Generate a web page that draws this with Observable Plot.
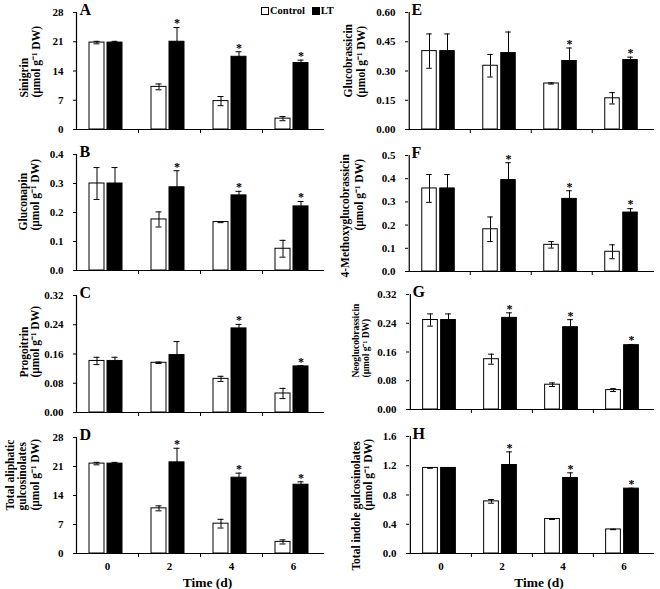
<!DOCTYPE html>
<html><head><meta charset="utf-8">
<script src="https://cdn.jsdelivr.net/npm/d3@7"></script>
<script src="https://cdn.jsdelivr.net/npm/@observablehq/plot@0.6"></script>
<style>
body{margin:0;background:#fff;}
#wrap{position:relative;width:660px;height:589px;overflow:hidden;background:#fff;font-family:"Liberation Serif","Times New Roman",serif;font-weight:bold;}
#wrap svg{position:absolute;background:transparent !important;overflow:visible;}
.legend{position:absolute;left:261px;top:5px;font-size:10.5px;line-height:12px;display:flex;align-items:center;white-space:nowrap;color:#000;}
.sw{display:inline-block;width:6px;height:6px;border:1px solid #000;margin-right:1px;}
</style></head><body><div id="wrap"></div>
<script>
const times = ["0","2","4","6"];
const series = ["Control","LT"];
const xTitle = "Time (d)";
const unitLine = "(μmol g⁻¹ DW)";

// A Sinigrin
const sinigrinControl = [20.8, 10.2, 6.8, 2.6];
const sinigrinControlErr = [0.3, 0.7, 1.1, 0.5];
const sinigrinLT = [20.8, 21.0, 17.4, 15.9];
const sinigrinLTErr = [0.3, 3.4, 1.2, 0.7];
const sinigrinSig = [false, true, true, true];
const sinigrinTicks = ["0","7","14","21","28"];
// B Gluconapin
const gluconapinControl = [0.300, 0.176, 0.167, 0.075];
const gluconapinControlErr = [0.055, 0.026, 0.002, 0.029];
const gluconapinLT = [0.300, 0.287, 0.259, 0.221];
const gluconapinLTErr = [0.055, 0.057, 0.014, 0.017];
const gluconapinSig = [false, true, true, true];
const gluconapinTicks = ["0.0","0.1","0.2","0.3","0.4"];
// C Progoitrin
const progoitrinControl = [0.141, 0.136, 0.092, 0.052];
const progoitrinControlErr = [0.010, 0.002, 0.007, 0.014];
const progoitrinLT = [0.141, 0.157, 0.230, 0.126];
const progoitrinLTErr = [0.010, 0.037, 0.011, 0.002];
const progoitrinSig = [false, false, true, true];
const progoitrinTicks = ["0.00","0.08","0.16","0.24","0.32"];
// D Total aliphatic
const aliphaticControl = [21.7, 10.9, 7.2, 2.8];
const aliphaticControlErr = [0.3, 0.6, 1.05, 0.5];
const aliphaticLT = [21.7, 22.0, 18.3, 16.6];
const aliphaticLTErr = [0.3, 3.4, 1.1, 0.7];
const aliphaticSig = [false, true, true, true];
const aliphaticTicks = ["0","7","14","21","28"];
// E Glucobrassicin
const glucobrassicinControl = [0.402, 0.327, 0.236, 0.160];
const glucobrassicinControlErr = [0.088, 0.058, 0.003, 0.029];
const glucobrassicinLT = [0.402, 0.392, 0.351, 0.356];
const glucobrassicinLTErr = [0.088, 0.108, 0.067, 0.015];
const glucobrassicinSig = [false, false, true, true];
const glucobrassicinTicks = ["0.00","0.15","0.30","0.45","0.60"];
// F 4-Methoxyglucobrassicin
const methoxyControl = [0.358, 0.182, 0.115, 0.085];
const methoxyControlErr = [0.060, 0.053, 0.014, 0.030];
const methoxyLT = [0.358, 0.394, 0.313, 0.254];
const methoxyLTErr = [0.060, 0.075, 0.035, 0.017];
const methoxySig = [false, true, true, true];
const methoxyTicks = ["0.0","0.1","0.2","0.3","0.4","0.5"];
// G Neoglucobrassicin
const neoControl = [0.249, 0.140, 0.069, 0.054];
const neoControlErr = [0.017, 0.014, 0.005, 0.004];
const neoLT = [0.249, 0.255, 0.229, 0.179];
const neoLTErr = [0.017, 0.014, 0.021, 0.002];
const neoSig = [false, true, true, true];
const neoTicks = ["0.00","0.08","0.16","0.24","0.32"];
// H Total indole
const indoleControl = [1.170, 0.713, 0.471, 0.329];
const indoleControlErr = [0.005, 0.025, 0.005, 0.003];
const indoleLT = [1.170, 1.210, 1.033, 0.887];
const indoleLTErr = [0.005, 0.180, 0.070, 0.005];
const indoleSig = [false, true, true, true];
const indoleTicks = ["0.0","0.4","0.8","1.2","1.6"];

// layout (page positions / margins), kept apart from data
const panels = [
  {letter:"A", ctrl:sinigrinControl, ctrlErr:sinigrinControlErr, lt:sinigrinLT, ltErr:sinigrinLTErr, sig:sinigrinSig, ticks:sinigrinTicks,
   left:0, top:0, height:140, ml:76, mt:12, mb:11,
   title:[{t:"Sinigrin", x:24, y:97}, {t:unitLine, x:36, y:97}]},
  {letter:"B", ctrl:gluconapinControl, ctrlErr:gluconapinControlErr, lt:gluconapinLT, ltErr:gluconapinLTErr, sig:gluconapinSig, ticks:gluconapinTicks,
   left:0, top:140, height:140, ml:76, mt:14, mb:10,
   title:[{t:"Gluconapin", x:23, y:90}, {t:unitLine, x:35, y:90}]},
  {letter:"C", ctrl:progoitrinControl, ctrlErr:progoitrinControlErr, lt:progoitrinLT, ltErr:progoitrinLTErr, sig:progoitrinSig, ticks:progoitrinTicks,
   left:0, top:280, height:140, ml:76, mt:15, mb:8,
   title:[{t:"Progoitrin", x:24, y:97}, {t:unitLine, x:35, y:97}]},
  {letter:"D", ctrl:aliphaticControl, ctrlErr:aliphaticControlErr, lt:aliphaticLT, ltErr:aliphaticLTErr, sig:aliphaticSig, ticks:aliphaticTicks,
   left:0, top:420, height:169, ml:76, mt:17, mb:36, xAxis:true,
   title:[{t:"Total aliphatic", x:10, y:90}, {t:"gulcosinolates", x:22, y:90}, {t:unitLine, x:35, y:90}]},
  {letter:"E", ctrl:glucobrassicinControl, ctrlErr:glucobrassicinControlErr, lt:glucobrassicinLT, ltErr:glucobrassicinLTErr, sig:glucobrassicinSig, ticks:glucobrassicinTicks,
   left:330, top:0, height:140, ml:78, mt:12, mb:11,
   title:[{t:"Glucobrassicin", x:18, y:97}, {t:unitLine, x:31, y:97}]},
  {letter:"F", ctrl:methoxyControl, ctrlErr:methoxyControlErr, lt:methoxyLT, ltErr:methoxyLTErr, sig:methoxySig, ticks:methoxyTicks,
   left:330, top:140, height:140, ml:78, mt:15, mb:9,
   title:[{t:"4-Methoxyglucobrassicin", x:15, y:137}, {t:unitLine, x:29, y:90}]},
  {letter:"G", ctrl:neoControl, ctrlErr:neoControlErr, lt:neoLT, ltErr:neoLTErr, sig:neoSig, ticks:neoTicks,
   left:330, top:280, height:140, ml:79, mt:14, mb:11, titleSize:9.5,
   title:[{t:"Neoglucobrassicin", x:25, y:97}, {t:unitLine, x:35, y:97}]},
  {letter:"H", ctrl:indoleControl, ctrlErr:indoleControlErr, lt:indoleLT, ltErr:indoleLTErr, sig:indoleSig, ticks:indoleTicks,
   left:330, top:420, height:169, ml:79, mt:16, mb:36, xAxis:true,
   title:[{t:"Total indole gulcosinolates", x:26, y:150}, {t:unitLine, x:38, y:90}]}
];

const W = 330, MR = 6, barW = 15, gap = 3, shift = -1.5, capW = 6;
const wrap = document.getElementById("wrap");

for (const p of panels) {
  const step = (W - p.ml - MR) / times.length;
  const innerH = p.height - p.mt - p.mb;
  const cC = step / 2 + shift - (barW + gap) / 2;
  const cL = step / 2 + shift + (barW + gap) / 2;
  const rows = times.map((t, i) => ({time: t, c: p.ctrl[i], ce: p.ctrlErr[i], l: p.lt[i], le: p.ltErr[i], sig: p.sig[i]}));
  const tickVals = p.ticks.map(Number);
  const yMax = tickVals[tickVals.length - 1];
  const errMarks = (val, err, cx) => [
    Plot.ruleX(rows, {x: "time", y1: d => d[val] - d[err], y2: d => d[val] + d[err], dx: cx - step / 2, stroke: "black", strokeWidth: 1}),
    Plot.tickY(rows, {x: "time", y: d => d[val] + d[err], insetLeft: cx - capW / 2, insetRight: step - cx - capW / 2, stroke: "black", strokeWidth: 1}),
    Plot.tickY(rows, {x: "time", y: d => d[val] - d[err], insetLeft: cx - capW / 2, insetRight: step - cx - capW / 2, stroke: "black", strokeWidth: 1})
  ];
  const marks = [
    Plot.barY(rows, {x: "time", y: "c", fill: "white", stroke: "black", strokeWidth: 1, insetLeft: cC - barW / 2, insetRight: step - cC - barW / 2}),
    Plot.barY(rows, {x: "time", y: "l", fill: "black", stroke: "black", strokeWidth: 1, insetLeft: cL - barW / 2, insetRight: step - cL - barW / 2}),
    ...errMarks("c", "ce", cC),
    ...errMarks("l", "le", cL),
    Plot.text(rows.filter(d => d.sig), {x: "time", y: d => d.l + d.le, text: () => "*", dx: cL - step / 2, dy: -4, fontSize: 12}),
    Plot.ruleY([0], {stroke: "black", strokeWidth: 1.2}),
    Plot.ruleX([times[0]], {dx: -step / 2, stroke: "black", strokeWidth: 1.2}),
    Plot.ruleX(times.slice(1), {dx: -step / 2, insetTop: innerH, insetBottom: -4, stroke: "black", strokeWidth: 1}),
    Plot.axisY({ticks: tickVals, tickSize: 3, tickPadding: 10, tickFormat: d => p.ticks[tickVals.indexOf(d)], label: null, fontSize: 11}),
    Plot.text([p.letter], {frameAnchor: "top-left", textAnchor: "start", lineAnchor: "middle", dx: 3, dy: -3, fontSize: 16}),
    ...p.title.map(l => Plot.text([l.t], {frameAnchor: "top-left", rotate: -90, textAnchor: "start", lineAnchor: "middle", dx: l.x - p.ml, dy: l.y - p.mt, fontSize: p.titleSize || 11.5}))
  ];
  if (p.xAxis) {
    marks.push(Plot.axisX({tickSize: 0, tickPadding: 9, label: null, fontSize: 11}));
    marks.push(Plot.text([xTitle], {frameAnchor: "bottom", dy: 29, dx: 7, lineAnchor: "middle", fontSize: 13.5}));
  }
  const svg = Plot.plot({
    width: W, height: p.height,
    marginLeft: p.ml, marginRight: MR, marginTop: p.mt, marginBottom: p.mb,
    x: {type: "band", domain: times, paddingInner: 0, paddingOuter: 0, axis: null},
    y: {domain: [0, yMax], axis: null},
    style: {fontFamily: "'Liberation Serif', 'Times New Roman', serif", fontWeight: "bold", fontSize: "11px", color: "black", background: "transparent"},
    marks
  });
  svg.style.left = p.left + "px";
  svg.style.top = p.top + "px";
  wrap.appendChild(svg);
}

// legend
const leg = document.createElement("div");
leg.className = "legend";
series.forEach((s, i) => {
  const sw = document.createElement("span");
  sw.className = "sw";
  sw.style.background = i === 0 ? "#fff" : "#000";
  leg.appendChild(sw);
  const tx = document.createElement("span");
  tx.textContent = s;
  tx.style.marginRight = i === 0 ? "7px" : "0";
  leg.appendChild(tx);
});
wrap.appendChild(leg);
</script></body></html>
